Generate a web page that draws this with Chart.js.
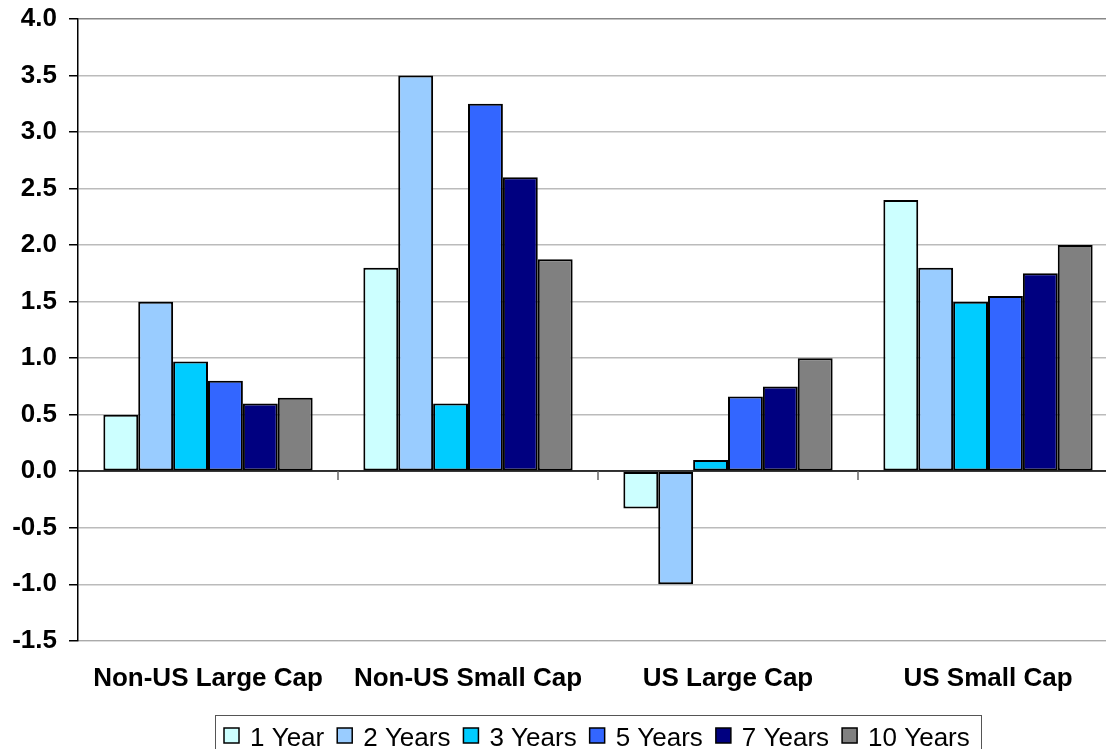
<!DOCTYPE html>
<html>
<head>
<meta charset="utf-8">
<script src="https://cdn.jsdelivr.net/npm/chart.js@4/dist/chart.umd.min.js"></script>
<style>
html,body{margin:0;padding:0;background:#fff;overflow:hidden;width:1106px;height:749px;}
#wrap{position:absolute;left:0;top:0;width:1196px;height:749px;}
</style>
</head>
<body>
<div id="wrap"><canvas id="c" width="1196" height="749"></canvas></div>
<script>
const categories = ["Non-US Large Cap", "Non-US Small Cap", "US Large Cap", "US Small Cap"];
const seriesNames = ["1 Year", "2 Years", "3 Years", "5 Years", "7 Years", "10 Years"];
const oneYear   = [0.5, 1.8, -0.33, 2.4];
const twoYears  = [1.5, 3.5, -1.0, 1.8];
const threeYears= [0.97, 0.6, 0.1, 1.5];
const fiveYears = [0.8, 3.25, 0.66, 1.55];
const sevenYears= [0.6, 2.6, 0.75, 1.75];
const tenYears  = [0.65, 1.875, 1.0, 2.0];
const yMin = -1.5, yMax = 4.0, yStep = 0.5;

const seriesValues = [oneYear, twoYears, threeYears, fiveYears, sevenYears, tenYears];
const colors = ["#CCFFFF", "#99CCFF", "#00CCFF", "#3366FF", "#000080", "#808080"];

const FONT = "'Liberation Sans', Arial, sans-serif";

const extras = {
  id: 'extras',
  afterDatasetsDraw(chart) {
    const ctx = chart.ctx, x = chart.scales.x, y = chart.scales.y;
    const y0 = Math.round(y.getPixelForValue(0));
    ctx.save();
    ctx.strokeStyle = '#000';
    ctx.lineWidth = 1.5;
    ctx.beginPath();
    ctx.moveTo(chart.chartArea.left, y0);
    ctx.lineTo(chart.chartArea.right, y0);
    ctx.stroke();
    ctx.strokeStyle = '#666';
    ctx.beginPath();
    for (let i = 1; i < categories.length; i++) {
      const xp = Math.round((x.getPixelForValue(i - 1) + x.getPixelForValue(i)) / 2);
      ctx.moveTo(xp, y0);
      ctx.lineTo(xp, y0 + 9);
    }
    ctx.stroke();
    ctx.restore();
  },
  afterDraw(chart) {
    const ctx = chart.ctx;
    const ds = chart.data.datasets;
    ctx.save();
    ctx.font = "26px " + FONT;
    const sq = 15, gapIn = 11, gapOut = 13;
    const widths = ds.map(d => ctx.measureText(d.label).width);
    let total = 0;
    widths.forEach((w, i) => { total += sq + gapIn + w + (i < ds.length - 1 ? gapOut : 0); });
    const cx = (chart.chartArea.left + chart.chartArea.right) / 2 - 1;
    let xp = Math.round(cx - total / 2);
    const boxTop = 715;
    ctx.strokeStyle = '#555';
    ctx.lineWidth = 1;
    ctx.strokeRect(xp - 9 + 0.5, boxTop + 0.5, Math.round(total + 20), 60);
    ctx.textBaseline = 'alphabetic';
    ds.forEach((d, i) => {
      ctx.fillStyle = d.backgroundColor;
      ctx.fillRect(xp, 728, sq, sq);
      ctx.strokeStyle = '#000';
      ctx.lineWidth = 1.5;
      ctx.strokeRect(xp, 728, sq, sq);
      ctx.fillStyle = '#000';
      ctx.fillText(d.label, xp + sq + gapIn, 746);
      xp += sq + gapIn + widths[i] + gapOut;
    });
    ctx.restore();
  }
};

new Chart(document.getElementById('c'), {
  type: 'bar',
  data: {
    labels: categories,
    datasets: seriesNames.map((n, i) => ({
      label: n,
      data: seriesValues[i],
      backgroundColor: colors[i],
      borderColor: '#000',
      borderWidth: 2,
      borderSkipped: false,
      categoryPercentage: 0.805,
      barPercentage: 1.0
    }))
  },
  options: {
    responsive: false,
    animation: false,
    devicePixelRatio: 1,
    layout: { padding: { left: 0, right: 78, top: 19, bottom: 33 } },
    plugins: {
      tooltip: { enabled: false },
      legend: { display: false }
    },
    scales: {
      x: {
        grid: { display: false, drawTicks: false },
        border: { display: true, color: '#aaa' },
        ticks: { font: { family: FONT, size: 26, weight: 'bold' }, color: '#000', padding: 22, maxRotation: 0 }
      },
      y: {
        min: yMin, max: yMax,
        afterFit: s => { s.width = 78; s.paddingTop = 0; s.paddingBottom = 0; },
        ticks: {
          stepSize: yStep,
          font: { family: FONT, size: 26, weight: 'bold' },
          color: '#000',
          padding: 12,
          callback: v => v.toFixed(1)
        },
        grid: {
          color: c => c.tick && c.tick.value === yMax ? '#888' : '#bbb',
          lineWidth: 1.5,
          tickColor: '#000',
          tickLength: 9
        },
        border: { display: true, color: '#000', width: 1.5 }
      }
    }
  },
  plugins: [extras]
});
</script>
</body>
</html>
